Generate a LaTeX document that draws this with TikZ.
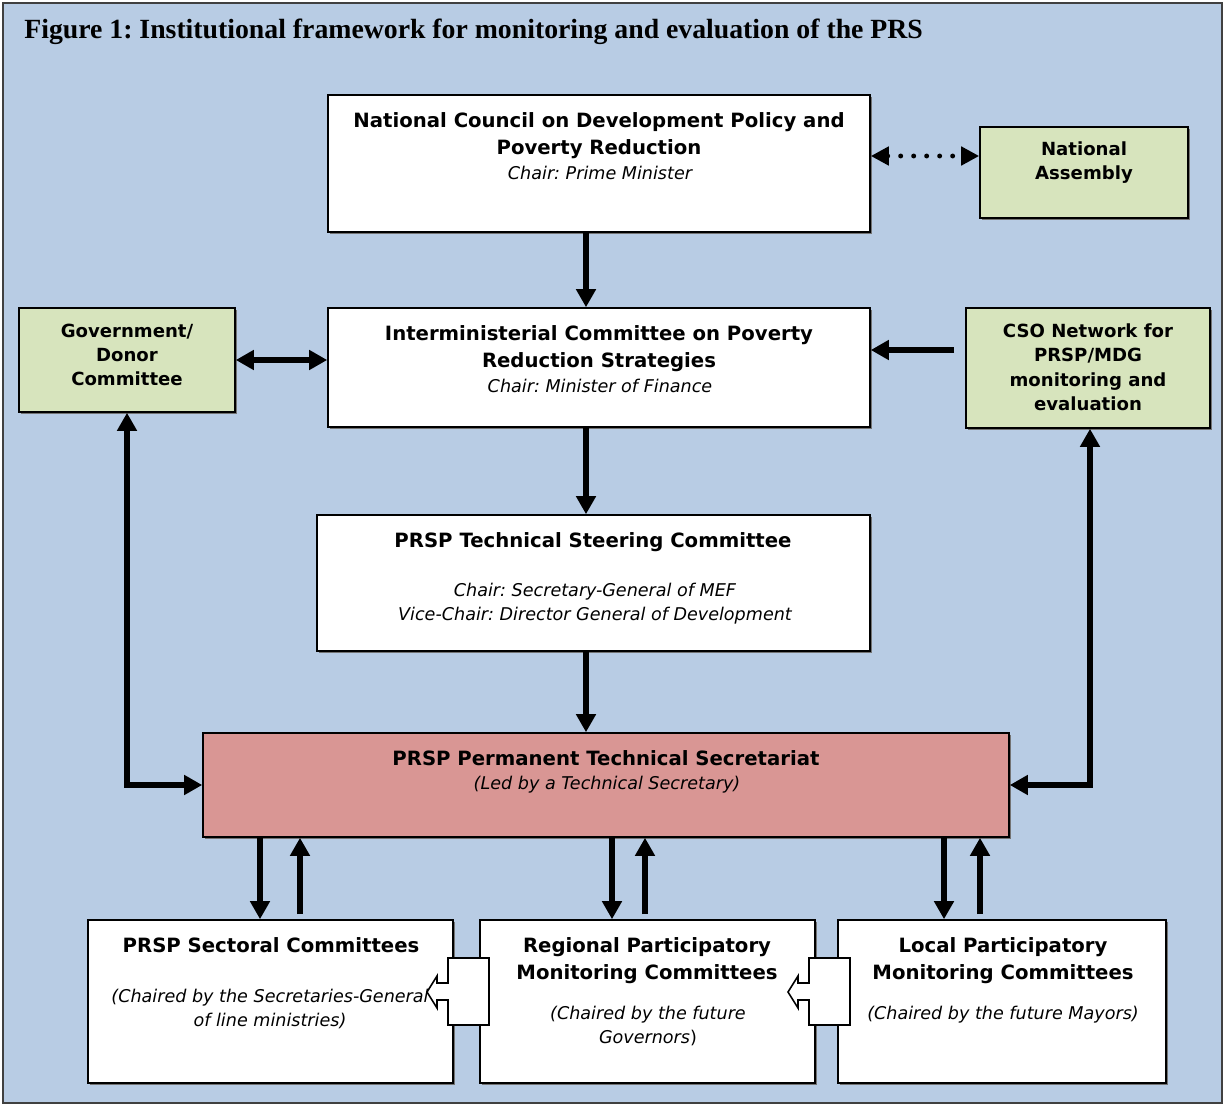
\documentclass[tikz,border=0pt]{standalone}
\usepackage{fontspec}
\setmainfont{DejaVu Sans}
\newfontfamily\figtitlefont{Liberation Serif}
\usetikzlibrary{arrows.meta,fit,shadows}

\definecolor{bgblue}{HTML}{B8CCE4}
\definecolor{boxgreen}{HTML}{D7E4BD}
\definecolor{boxrose}{HTML}{D99694}

\tikzset{
  box/.style={draw=black, line width=0.9pt, fill=white, inner sep=0pt,
    drop shadow={shadow xshift=1pt, shadow yshift=-1pt, fill=black!55, opacity=1}},
  sidebox/.style={box, fill=boxgreen},
  headtxt/.style={anchor=north, align=center, inner sep=0pt, font=\bfseries\fontsize{11.2}{15.4}\selectfont},
  sidetxt/.style={anchor=north, align=center, inner sep=0pt, font=\bfseries\fontsize{10.3}{13.8}\selectfont},
  chairtxt/.style={anchor=north, align=center, inner sep=0pt, font=\itshape\fontsize{10}{13.6}\selectfont},
  arr/.style={line width=3.4pt, -{Triangle[length=0.36cm,width=0.38cm]}},
  arrs/.style={line width=3.4pt, {Triangle[length=0.36cm,width=0.38cm]}-{Triangle[length=0.36cm,width=0.38cm]}},
  dotarr/.style={line width=2.8pt, line cap=round, dash pattern=on 0pt off 0.26cm,
    {Triangle[length=0.36cm,width=0.36cm]}-{Triangle[length=0.36cm,width=0.36cm]}},
}

\begin{document}
\frenchspacing
\begin{tikzpicture}[x=0.02cm, y=-0.02cm]
\useasboundingbox (0,0) rectangle (1225,1105);
\draw[fill=bgblue, draw=black!75, line width=1.2pt] (3,3) rectangle (1222,1103);
\node[anchor=base west, inner sep=0pt, font=\figtitlefont\bfseries\fontsize{15.8}{18}\selectfont] (title) at (24,39)
  {Figure 1: Institutional framework for monitoring and evaluation of the PRS};

% boxes
\node[box, fit={(328,95) (870,232)}] (ncdp) {};
\node[sidebox, fit={(980,127) (1188,218)}] (nass) {};
\node[sidebox, fit={(19,308) (235,412)}] (gov) {};
\node[box, fit={(328,308) (870,427)}] (imc) {};
\node[sidebox, fit={(966,308) (1210,428)}] (cso) {};
\node[box, fit={(317,515) (870,651)}] (tsc) {};
\node[box, fill=boxrose, fit={(203,733) (1009,837)}] (sec) {};
\node[box, fit={(88,920) (453,1083)}] (sect) {};
\node[box, fit={(480,920) (815,1083)}] (reg) {};
\node[box, fit={(838,920) (1166,1083)}] (loc) {};

% texts
\node[headtxt] (ncdp-t) at (599,112) {National Council on Development Policy and\\Poverty Reduction};
\node[chairtxt] (ncdp-c) at (600,165.5) {Chair: Prime Minister};
\node[sidetxt] (nass-t) at (1084,141) {National\\Assembly};
\node[sidetxt] (gov-t) at (127,323.5) {Government/\\Donor\\Committee};
\node[headtxt] (imc-t) at (599,325) {Interministerial Committee on Poverty\\Reduction Strategies};
\node[chairtxt] (imc-c) at (600,378.5) {Chair: Minister of Finance};
\node[sidetxt] (cso-t) at (1088,323.5) {CSO Network for\\PRSP/MDG\\monitoring and\\evaluation};
\node[headtxt] (tsc-t) at (593,532) {PRSP Technical Steering Committee};
\node[chairtxt] (tsc-c) at (595,582.5) {Chair: Secretary-General of MEF\\Vice-Chair: Director General of Development};
\node[headtxt] (sec-t) at (606,750) {PRSP Permanent Technical Secretariat};
\node[chairtxt] (sec-c) at (607,775.5) {(Led by a Technical Secretary)};
\node[headtxt] (sect-t) at (271,937) {PRSP Sectoral Committees};
\node[chairtxt] (sect-c) at (270,988.5) {(Chaired by the Secretaries-General\\of line ministries)};
\node[headtxt] (reg-t) at (647,937) {Regional Participatory\\Monitoring Committees};
\node[chairtxt] (reg-c) at (648,1005.5) {(Chaired by the future\\Governors\textup{)}};
\node[headtxt] (loc-t) at (1003,937) {Local Participatory\\Monitoring Committees};
\node[chairtxt] (loc-c) at (1003,1005.5) {(Chaired by the future Mayors)};

% top chain
\draw[arr] ([xshift=-0.26cm]ncdp.south) -- ([xshift=-0.26cm]ncdp.south |- imc.north);
\draw[arr] ([xshift=-0.26cm]imc.south) -- ([xshift=-0.26cm]imc.south |- tsc.north);
\draw[arr] ([xshift=-0.15cm]tsc.south) -- ([xshift=-0.15cm]tsc.south |- sec.north);
\draw[dotarr] ([yshift=0.15cm]ncdp.east) -- ([yshift=0.15cm]ncdp.east -| nass.west);
\draw[arrs] (gov.east) -- (gov.east -| imc.west);
\draw[arr] ([xshift=-0.22cm,yshift=0.36cm]cso.west) -- ([yshift=0.36cm]cso.west -| imc.east);
\draw[arrs] (gov.south) |- (sec.west);
\draw[arrs] ([xshift=0.04cm]cso.south) |- (sec.east);

% secretariat <-> committees
\draw[arr] ([xshift=-0.21cm]sect.north |- sec.south) -- ([xshift=-0.21cm]sect.north);
\draw[arr] ([xshift=0.59cm,yshift=0.1cm]sect.north) -- ([xshift=0.59cm]sect.north |- sec.south);
\draw[arr] ([xshift=-0.71cm]reg.north |- sec.south) -- ([xshift=-0.71cm]reg.north);
\draw[arr] ([xshift=-0.05cm,yshift=0.1cm]reg.north) -- ([xshift=-0.05cm]reg.north |- sec.south);
\draw[arr] ([xshift=-1.16cm]loc.north |- sec.south) -- ([xshift=-1.16cm]loc.north);
\draw[arr] ([xshift=-0.44cm,yshift=0.1cm]loc.north) -- ([xshift=-0.44cm]loc.north |- sec.south);

% hollow arrows between the committees
\foreach \l in {448,809}
  \draw[fill=white, line width=0.9pt] (\l,958) -- (\l+41,958) -- (\l+41,1025) -- (\l,1025)
    -- (\l,1000) -- (\l-11,1000) -- (\l-11,1008) -- (\l-21,992) -- (\l-11,976) -- (\l-11,983)
    -- (\l,983) -- cycle;
\end{tikzpicture}
\end{document}
